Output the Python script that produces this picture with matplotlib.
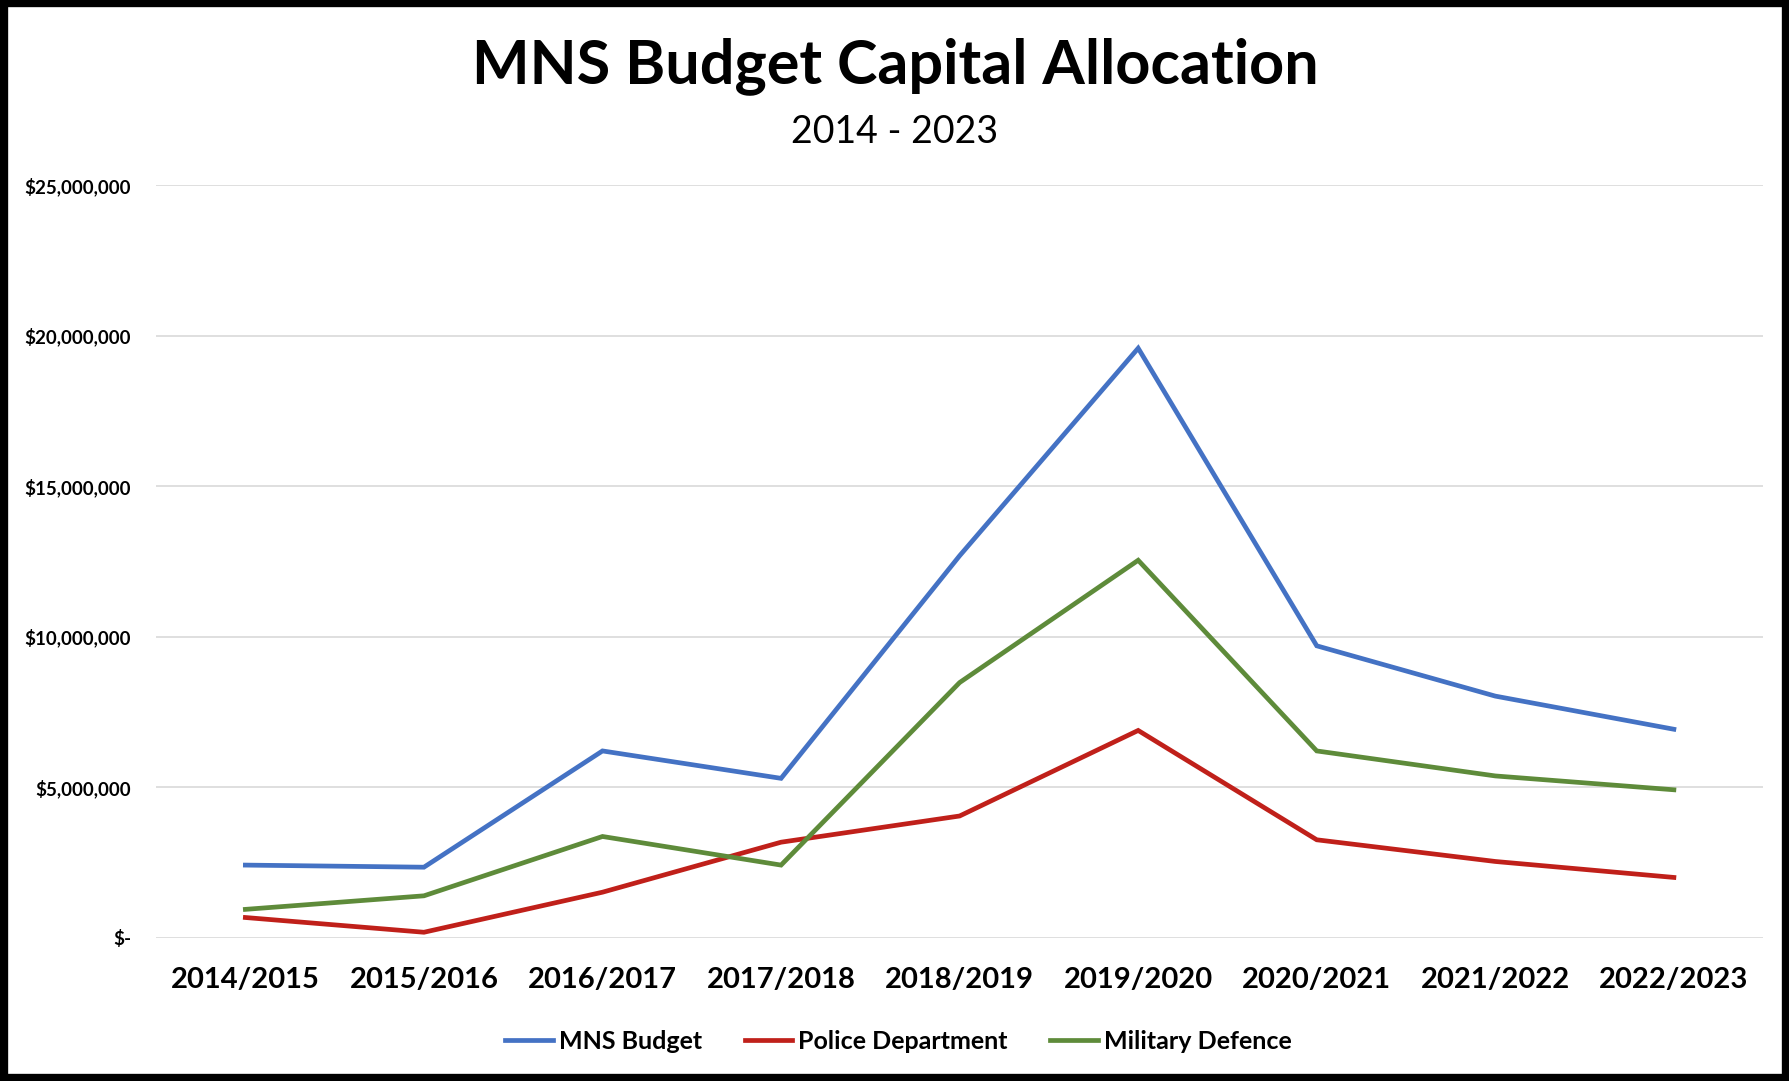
import matplotlib.pyplot as plt
from matplotlib.patches import Rectangle
from matplotlib.ticker import FuncFormatter

years = ["2014/2015", "2015/2016", "2016/2017", "2017/2018", "2018/2019",
         "2019/2020", "2020/2021", "2021/2022", "2022/2023"]
mns_budget = [2420000, 2350000, 6210000, 5300000, 12690000,
              19580000, 9700000, 8030000, 6930000]
police = [680000, 190000, 1520000, 3180000, 4050000,
          6890000, 3260000, 2540000, 2010000]
military = [950000, 1400000, 3370000, 2420000, 8480000,
            12540000, 6210000, 5380000, 4920000]

yticks = [0, 5000000, 10000000, 15000000, 20000000, 25000000]


def money(v, pos):
    if v == 0:
        return "$-"
    return "${:,.0f}".format(v)


def main():
    plt.rcParams['font.family'] = ['Lato', 'DejaVu Sans']

    fig = plt.figure(figsize=(17.9, 10.81), dpi=100)
    ax = fig.add_axes([0.0872, 0.1323, 0.8978, 0.6966])

    x = list(range(len(years)))
    ax.plot(x, mns_budget, color='#4472C4', lw=3.4, label="MNS Budget",
            solid_joinstyle='miter')
    ax.plot(x, police, color='#C0201A', lw=3.4, label="Police Department",
            solid_joinstyle='miter')
    ax.plot(x, military, color='#5E8B3A', lw=3.4, label="Military Defence",
            solid_joinstyle='miter')

    ax.set_xlim(-0.5, len(years) - 0.5)
    ax.set_ylim(0, 25000000)
    ax.set_yticks(yticks)
    ax.yaxis.set_major_formatter(FuncFormatter(money))
    ax.set_xticks(x)
    ax.set_xticklabels(years, fontsize=21, fontweight='bold')
    for t in ax.get_yticklabels():
        t.set_fontsize(13.5)
        t.set_fontweight('bold')
    ax.tick_params(axis='both', length=0)
    ax.tick_params(axis='x', pad=21)
    ax.tick_params(axis='y', pad=18)
    ax.grid(True, axis='y', color='#D9D9D9', lw=1.2)
    ax.set_axisbelow(True)
    for s in ax.spines.values():
        s.set_visible(False)

    fig.text(0.5, 0.939, "MNS Budget Capital Allocation", ha='center',
             va='center', fontsize=44, fontweight='bold')
    fig.text(0.5, 0.878, "2014 - 2023", ha='center', va='center',
             fontsize=27)

    fig.legend(loc='center', bbox_to_anchor=(0.502, 0.037), ncol=3,
               frameon=False, prop={'size': 18, 'weight': 'bold'},
               handlelength=1.9, handletextpad=0.25, columnspacing=1.7)

    fig.patches.append(Rectangle((0.002, 0.003), 0.996, 0.994,
                                 transform=fig.transFigure, fill=False,
                                 edgecolor='black', lw=6))

    fig.savefig("out.png", dpi=100)


if __name__ == '__main__':
    main()
